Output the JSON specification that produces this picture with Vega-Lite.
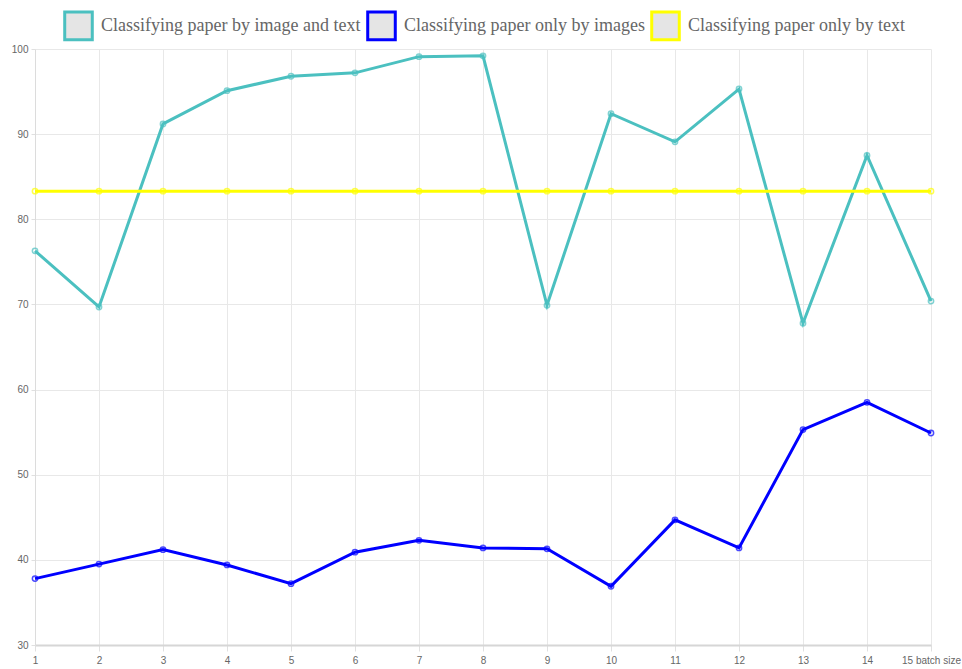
{
  "$schema": "https://vega.github.io/schema/vega-lite/v6.json",
  "autosize": {"type": "none"},
  "width": 896,
  "height": 596,
  "padding": {"left": 35, "top": 49, "right": 31, "bottom": 24},
  "background": "white",
  "data": {
    "values": [
      {"batch": 1, "Classifying paper by image and text": 76.3, "Classifying paper only by images": 37.8, "Classifying paper only by text": 83.3},
      {"batch": 2, "Classifying paper by image and text": 69.7, "Classifying paper only by images": 39.5, "Classifying paper only by text": 83.3},
      {"batch": 3, "Classifying paper by image and text": 91.2, "Classifying paper only by images": 41.2, "Classifying paper only by text": 83.3},
      {"batch": 4, "Classifying paper by image and text": 95.1, "Classifying paper only by images": 39.4, "Classifying paper only by text": 83.3},
      {"batch": 5, "Classifying paper by image and text": 96.8, "Classifying paper only by images": 37.2, "Classifying paper only by text": 83.3},
      {"batch": 6, "Classifying paper by image and text": 97.2, "Classifying paper only by images": 40.9, "Classifying paper only by text": 83.3},
      {"batch": 7, "Classifying paper by image and text": 99.1, "Classifying paper only by images": 42.3, "Classifying paper only by text": 83.3},
      {"batch": 8, "Classifying paper by image and text": 99.2, "Classifying paper only by images": 41.4, "Classifying paper only by text": 83.3},
      {"batch": 9, "Classifying paper by image and text": 69.9, "Classifying paper only by images": 41.3, "Classifying paper only by text": 83.3},
      {"batch": 10, "Classifying paper by image and text": 92.4, "Classifying paper only by images": 36.9, "Classifying paper only by text": 83.3},
      {"batch": 11, "Classifying paper by image and text": 89.1, "Classifying paper only by images": 44.7, "Classifying paper only by text": 83.3},
      {"batch": 12, "Classifying paper by image and text": 95.3, "Classifying paper only by images": 41.4, "Classifying paper only by text": 83.3},
      {"batch": 13, "Classifying paper by image and text": 67.8, "Classifying paper only by images": 55.3, "Classifying paper only by text": 83.3},
      {"batch": 14, "Classifying paper by image and text": 87.5, "Classifying paper only by images": 58.5, "Classifying paper only by text": 83.3},
      {"batch": 15, "Classifying paper by image and text": 70.4, "Classifying paper only by images": 54.9, "Classifying paper only by text": 83.3}
    ]
  },
  "transform": [
    {"fold": ["Classifying paper by image and text", "Classifying paper only by images", "Classifying paper only by text"], "as": ["series", "acc"]}
  ],
  "encoding": {
    "x": {
      "field": "batch",
      "type": "quantitative",
      "scale": {"domain": [1, 15], "nice": false, "zero": false},
      "axis": {
        "title": null,
        "values": [1, 2, 3, 4, 5, 6, 7, 8, 9, 10, 11, 12, 13, 14, 15],
        "labelExpr": "datum.value == 15 ? '15 batch size' : datum.label",
        "labelOverlap": false,
        "labelFlush": false,
        "labelBound": false,
        "tickSize": 6,
        "labelPadding": 4,
        "domainColor": "#d6d6d6",
        "domainWidth": 2
      }
    },
    "y": {
      "field": "acc",
      "type": "quantitative",
      "scale": {"domain": [30, 100], "nice": false, "zero": false},
      "axis": {
        "title": null,
        "values": [30, 40, 50, 60, 70, 80, 90, 100],
        "labelOverlap": false,
        "labelFlush": false,
        "tickSize": 4,
        "labelPadding": 3,
        "domainColor": "#dcdcdc"
      }
    }
  },
  "layer": [
    {
      "mark": {"type": "line", "strokeWidth": 3},
      "encoding": {
        "color": {
          "field": "series",
          "type": "nominal",
          "scale": {
            "domain": ["Classifying paper by image and text", "Classifying paper only by images", "Classifying paper only by text"],
            "range": ["#4bc0c0", "#0000ff", "#ffff00"]
          },
          "legend": {
            "title": null,
            "orient": "none",
            "direction": "horizontal",
            "legendX": 28,
            "legendY": -39,
            "symbolType": "square",
            "symbolSize": 760,
            "symbolStrokeWidth": 3,
            "labelFont": "Liberation Serif",
            "labelFontSize": 18,
            "labelColor": "#666666",
            "labelOffset": 7,
            "columnPadding": 0,
            "labelLimit": 400,
            "padding": 0,
            "encode": {
              "symbols": {"update": {"fill": {"value": "#e5e5e5"}, "strokeWidth": {"value": 3}}}
            }
          }
        }
      }
    },
    {
      "mark": {"type": "point", "shape": "circle", "size": 28, "filled": false, "strokeWidth": 1.5, "opacity": 0.7},
      "encoding": {
        "color": {"field": "series", "type": "nominal", "legend": null}
      }
    }
  ],
  "config": {
    "view": {"stroke": null},
    "axis": {
      "labelFont": "Liberation Sans",
      "labelFontSize": 10,
      "labelColor": "#666666",
      "gridColor": "#e8e8e8",
      "tickColor": "#e0e0e0",
      "grid": true
    }
  }
}
